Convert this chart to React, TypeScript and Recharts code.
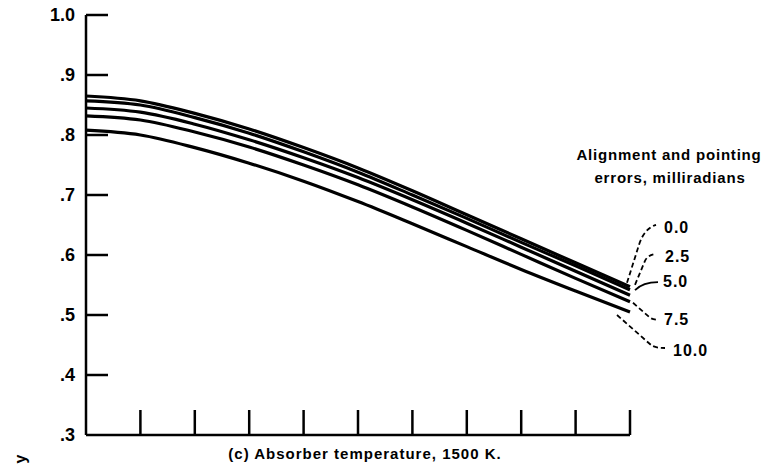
import React from 'react';
import { LineChart, Line, XAxis, YAxis, LabelList, Label } from 'recharts';

// Collector position along the horizontal axis (unlabelled divisions)
const positions = [0, 1, 2, 3, 4, 5, 6, 7, 8, 9, 10];

// Efficiency curves for each alignment / pointing error (milliradians)
const err00 = [0.865, 0.857, 0.836, 0.810, 0.779, 0.745, 0.707, 0.667, 0.627, 0.587, 0.547];
const err25 = [0.857, 0.850, 0.829, 0.803, 0.772, 0.738, 0.700, 0.661, 0.621, 0.582, 0.542];
const err50 = [0.845, 0.838, 0.818, 0.792, 0.762, 0.729, 0.692, 0.653, 0.613, 0.573, 0.533];
const err75 = [0.832, 0.825, 0.805, 0.780, 0.750, 0.717, 0.680, 0.641, 0.601, 0.561, 0.522];
const err100 = [0.808, 0.800, 0.779, 0.753, 0.723, 0.689, 0.652, 0.614, 0.576, 0.540, 0.505];

const seriesKeys = ['e00', 'e25', 'e50', 'e75', 'e100'];
const seriesLabels = ['0.0', '2.5', '5.0', '7.5', '10.0'];

const yTicks = [0.3, 0.4, 0.5, 0.6, 0.7, 0.8, 0.9, 1.0];
const yTickLabels = ['.3', '.4', '.5', '.6', '.7', '.8', '.9', '1.0'];
const xTicks = [1, 2, 3, 4, 5, 6, 7, 8, 9, 10];

const legendTitle = ['Alignment and pointing', 'errors, milliradians'];
const caption = '(c) Absorber temperature, 1500 K.';
const yAxisTitle = 'y';

const data = positions.map((p, i) => ({
  pos: p,
  e00: err00[i],
  e25: err25[i],
  e50: err50[i],
  e75: err75[i],
  e100: err100[i],
}));

const INK = '#000';
const FONT = '"Liberation Sans", Arial, sans-serif';

// Leader line and label placement relative to each curve's end point
const leaders = [
  { d: 'M -3 -4 L 9 -42 Q 14 -58 26 -62', dash: '5 3', tx: 34, ty: -59 },
  { d: 'M 5 -5 L 15 -29 Q 18 -35 26 -36', dash: '5 3', tx: 35, ty: -33 },
  { d: 'M 5 -5 Q 13 -13 28 -13', dash: undefined, tx: 33, ty: -14 },
  { d: 'M 3 1 L 19 15 Q 22 18 29 18', dash: '5 3', tx: 34, ty: 18 },
  { d: 'M -13 3 L 21 33 Q 25 36 35 36', dash: '5 3', tx: 43, ty: 38 },
];

const YTick = (props: any) => {
  const { x, y, payload } = props;
  const idx = yTicks.indexOf(payload.value);
  return (
    <g>
      {payload.value > 0.3 && (
        <line x1={x} x2={x + 22} y1={y} y2={y} stroke={INK} strokeWidth={2.5} />
      )}
      <text
        x={x - 11}
        y={y}
        textAnchor="end"
        dominantBaseline="central"
        fontFamily={FONT}
        fontWeight="bold"
        fontSize={18}
        fill={INK}
      >
        {yTickLabels[idx]}
      </text>
    </g>
  );
};

const XTick = (props: any) => {
  const { x, y } = props;
  return <line x1={x} x2={x} y1={y} y2={y - 25} stroke={INK} strokeWidth={2.5} />;
};

const makeEndLabel = (si: number) => (props: any) => {
  const { index } = props;
  if (index !== positions.length - 1) return null;
  const x = props.x ?? props.viewBox?.x;
  const y = props.y ?? props.viewBox?.y;
  const l = leaders[si];
  return (
    <g transform={`translate(${x},${y})`}>
      <path d={l.d} fill="none" stroke={INK} strokeWidth={1.8} strokeDasharray={l.dash} />
      <text
        x={l.tx}
        y={l.ty}
        dominantBaseline="central"
        fontFamily={FONT}
        fontWeight="bold"
        fontSize={16}
        letterSpacing={1}
        fill={INK}
      >
        {seriesLabels[si]}
      </text>
      {si === 0 && (
        <g>
          <text x={39} y={-132} textAnchor="middle" dominantBaseline="central" fontFamily={FONT} fontWeight="bold" fontSize={15} letterSpacing={0.8} fill={INK}>
            {legendTitle[0]}
          </text>
          <text x={40} y={-109} textAnchor="middle" dominantBaseline="central" fontFamily={FONT} fontWeight="bold" fontSize={15} letterSpacing={0.8} fill={INK}>
            {legendTitle[1]}
          </text>
        </g>
      )}
    </g>
  );
};

const CaptionLabel = (props: any) => {
  const vb = props.viewBox || {};
  return (
    <g>
      <text
        x={vb.x + vb.width / 2 + 7}
        y={vb.y + 18}
        textAnchor="middle"
        dominantBaseline="central"
        fontFamily={FONT}
        fontWeight="bold"
        fontSize={15}
        letterSpacing={1}
        fill={INK}
      >
        {caption}
      </text>
      <text
        transform={`translate(${vb.x - 66},${vb.y + 24}) rotate(-90)`}
        textAnchor="middle"
        dominantBaseline="central"
        fontFamily={FONT}
        fontWeight="bold"
        fontSize={16}
        fill={INK}
      >
        {yAxisTitle}
      </text>
    </g>
  );
};

export default function App() {
  return (
    <div style={{ position: 'absolute', left: 0, top: 0, background: '#fff' }}>
      <LineChart
        width={771}
        height={469}
        data={data}
        margin={{ top: 15, right: 141, bottom: 0, left: 0 }}
      >
        <XAxis
          dataKey="pos"
          type="number"
          domain={[0, 10]}
          ticks={xTicks}
          height={34}
          tickSize={0}
          tickMargin={0}
          tickLine={false}
          axisLine={{ stroke: INK, strokeWidth: 2.5 }}
          tick={<XTick />}
        >
          <Label content={<CaptionLabel />} />
        </XAxis>
        <YAxis
          type="number"
          domain={[0.3, 1.0]}
          ticks={yTicks}
          width={86}
          tickSize={0}
          tickMargin={0}
          tickLine={false}
          axisLine={{ stroke: INK, strokeWidth: 2.5 }}
          tick={<YTick />}
        />
        {seriesKeys.map((k, i) => (
          <Line
            key={k}
            dataKey={k}
            type="monotone"
            stroke={INK}
            strokeWidth={3.2}
            dot={false}
            isAnimationActive={false}
          >
            <LabelList dataKey={k} content={makeEndLabel(i)} />
          </Line>
        ))}
      </LineChart>
    </div>
  );
}
